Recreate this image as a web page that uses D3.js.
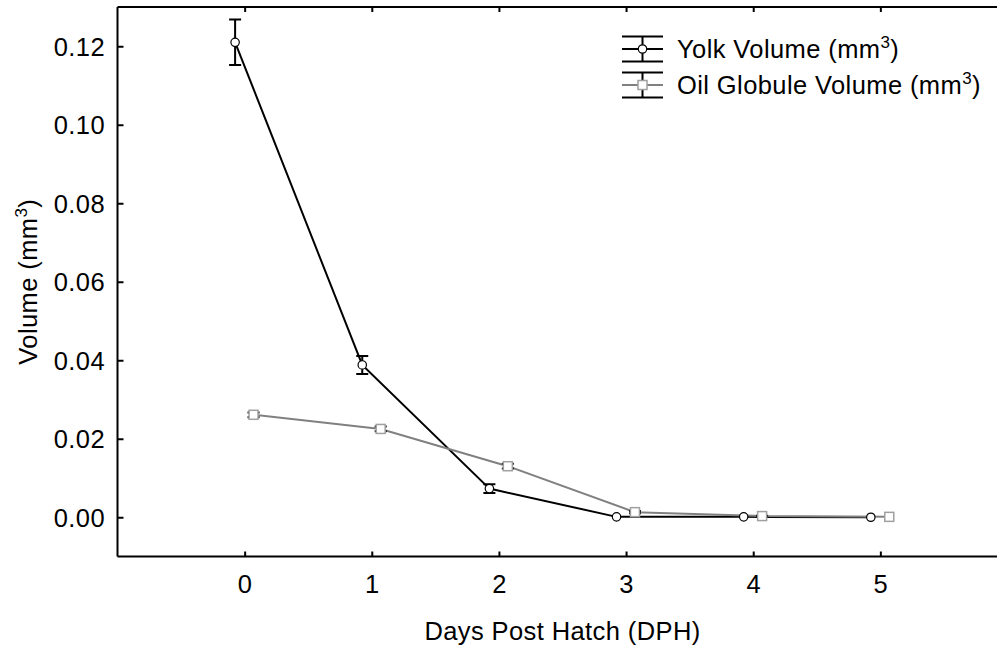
<!DOCTYPE html>
<html>
<head>
<meta charset="utf-8">
<script src="https://cdn.jsdelivr.net/npm/d3@7"></script>
<style>
  html, body { margin: 0; padding: 0; background: #fff; }
  svg { display: block; }
  text { font-family: "Liberation Sans", Arial, sans-serif; fill: #000; }
</style>
</head>
<body>
<svg id="chart" width="997" height="648"></svg>
<script>
// ---- data ----
const days = [0, 1, 2, 3, 4, 5];
const yolkVolume = [0.1210, 0.0388, 0.0073, 0.0001, 0.0001, 0.0000];
const yolkError  = [0.0058, 0.0023, 0.0011, 0.0000, 0.0000, 0.0000];
const oilVolume  = [0.0261, 0.0225, 0.0130, 0.0013, 0.0003, 0.0001];
const oilError   = [0.0006, 0.0006, 0.0006, 0.0003, 0.0001, 0.0000];
const yTicks = [0.00, 0.02, 0.04, 0.06, 0.08, 0.10, 0.12];
const xTicks = [0, 1, 2, 3, 4, 5];
const seriesNames = ["Yolk Volume (mm", "Oil Globule Volume (mm"];

(function () {
// ---- layout ----
const svg = d3.select("#chart");
const pLeft = 117.5, pRight = 1007.5, pTop = 7, pBottom = 556.5;
const x = d3.scaleLinear().domain([-1, 6]).range([pLeft, pRight]);
const y = d3.scaleLinear().domain([-0.01, 0.13]).range([pBottom, pTop]);
const yolkOffset = -0.075, oilOffset = 0.07;
const FS = 25.5, LS = "0.4px", SUP = 17;

// axes frame
const g = svg.append("g");
const axLeft = d3.axisLeft(y).tickValues(yTicks).tickFormat(d3.format(".2f")).tickSize(-6).tickPadding(12.5);
const axBottom = d3.axisBottom(x).tickValues(xTicks).tickFormat(d3.format("d")).tickSize(-5).tickPadding(18);
const axTop = d3.axisTop(x).tickValues(xTicks).tickFormat("").tickSize(-5);

function styleAxis(sel) {
  sel.select(".domain").attr("stroke", "#000").attr("stroke-width", 2);
  sel.selectAll(".tick line").attr("stroke", "#000").attr("stroke-width", 2);
  sel.selectAll(".tick text").attr("font-size", FS).attr("font-family", "Liberation Sans, Arial, sans-serif")
     .style("letter-spacing", LS).attr("fill", "#000");
}
const gl = g.append("g").attr("transform", `translate(${pLeft},0)`).call(axLeft);
gl.select(".domain").attr("d", `M0,${pTop}V${pBottom}`);
styleAxis(gl);
gl.selectAll(".tick text").attr("dy", "0.36em");
const gb = g.append("g").attr("transform", `translate(0,${pBottom})`).call(axBottom);
gb.select(".domain").attr("d", `M${pLeft},0H${pRight}`);
styleAxis(gb);
const gt = g.append("g").attr("transform", `translate(0,${pTop})`).call(axTop);
gt.select(".domain").attr("d", `M${pLeft},0H${pRight}`);
styleAxis(gt);

// axis titles
svg.append("text")
  .attr("x", (pLeft + pRight) / 2).attr("y", 640)
  .attr("text-anchor", "middle").attr("font-size", FS).style("letter-spacing", LS)
  .text("Days Post Hatch (DPH)");

const yt = svg.append("text")
  .attr("transform", `translate(37,${(pTop + pBottom) / 2}) rotate(-90)`)
  .attr("text-anchor", "middle").attr("font-size", FS).style("letter-spacing", LS);
yt.append("tspan").text("Volume (mm");
yt.append("tspan").attr("font-size", SUP).attr("dy", -10).text("3");
yt.append("tspan").attr("dy", 10).text(")");

// data rows
const yolkData = days.map((d, i) => ({ d: d + yolkOffset, v: yolkVolume[i], e: yolkError[i] }));
const oilData = days.map((d, i) => ({ d: d + oilOffset, v: oilVolume[i], e: oilError[i] }));

const line = d3.line().x(p => x(p.d)).y(p => y(p.v));

const plot = svg.append("g");
plot.append("path").datum(yolkData).attr("d", line).attr("fill", "none").attr("stroke", "#000").attr("stroke-width", 2);
plot.append("path").datum(oilData).attr("d", line).attr("fill", "none").attr("stroke", "#808080").attr("stroke-width", 2);

function errorBars(data) {
  const eg = plot.append("g").attr("stroke", "#000").attr("stroke-width", 2).attr("fill", "none");
  data.filter(p => p.e > 0).forEach(p => {
    const cx = x(p.d), y1 = y(p.v + p.e), y2 = y(p.v - p.e);
    eg.append("path").attr("d", `M${cx},${y1}V${y2}M${cx - 6},${y1}H${cx + 6}M${cx - 6},${y2}H${cx + 6}`);
  });
}
errorBars(yolkData);
errorBars(oilData);

plot.selectAll("circle.yolk").data(yolkData).join("circle").attr("class", "yolk")
  .attr("cx", p => x(p.d)).attr("cy", p => y(p.v)).attr("r", 4.2)
  .attr("fill", "#fff").attr("stroke", "#000").attr("stroke-width", 1.2);
plot.selectAll("rect.oil").data(oilData).join("rect").attr("class", "oil")
  .attr("x", p => x(p.d) - 4.5).attr("y", p => y(p.v) - 4.5).attr("width", 9).attr("height", 9)
  .attr("fill", "#fff").attr("stroke", "#a0a0a0").attr("stroke-width", 1.5);

// legend
const legX = 622, legW = 41, legRows = [49, 85];
const legend = svg.append("g");
seriesNames.forEach((name, i) => {
  const cy = legRows[i];
  const lg = legend.append("g");
  const lineColor = i === 0 ? "#000" : "#808080";
  lg.append("path").attr("d", `M${legX},${cy - 12.5}H${legX + legW}M${legX},${cy + 12.5}H${legX + legW}M${legX + legW / 2},${cy - 12.5}V${cy + 12.5}`)
    .attr("stroke", "#000").attr("stroke-width", 2);
  lg.append("path").attr("d", `M${legX},${cy}H${legX + legW}`).attr("stroke", lineColor).attr("stroke-width", 2);
  if (i === 0) {
    lg.append("circle").attr("cx", legX + legW / 2).attr("cy", cy).attr("r", 4.2)
      .attr("fill", "#fff").attr("stroke", "#000").attr("stroke-width", 1.2);
  } else {
    lg.append("rect").attr("x", legX + legW / 2 - 4.5).attr("y", cy - 4.5).attr("width", 9).attr("height", 9)
      .attr("fill", "#fff").attr("stroke", "#a0a0a0").attr("stroke-width", 1.5);
  }
  const t = lg.append("text").attr("x", 677).attr("y", cy + 9).attr("font-size", FS).style("letter-spacing", LS);
  t.append("tspan").text(name);
  t.append("tspan").attr("font-size", SUP).attr("dy", -10).text("3");
  t.append("tspan").attr("dy", 10).text(")");
});
})();
</script>
</body>
</html>
